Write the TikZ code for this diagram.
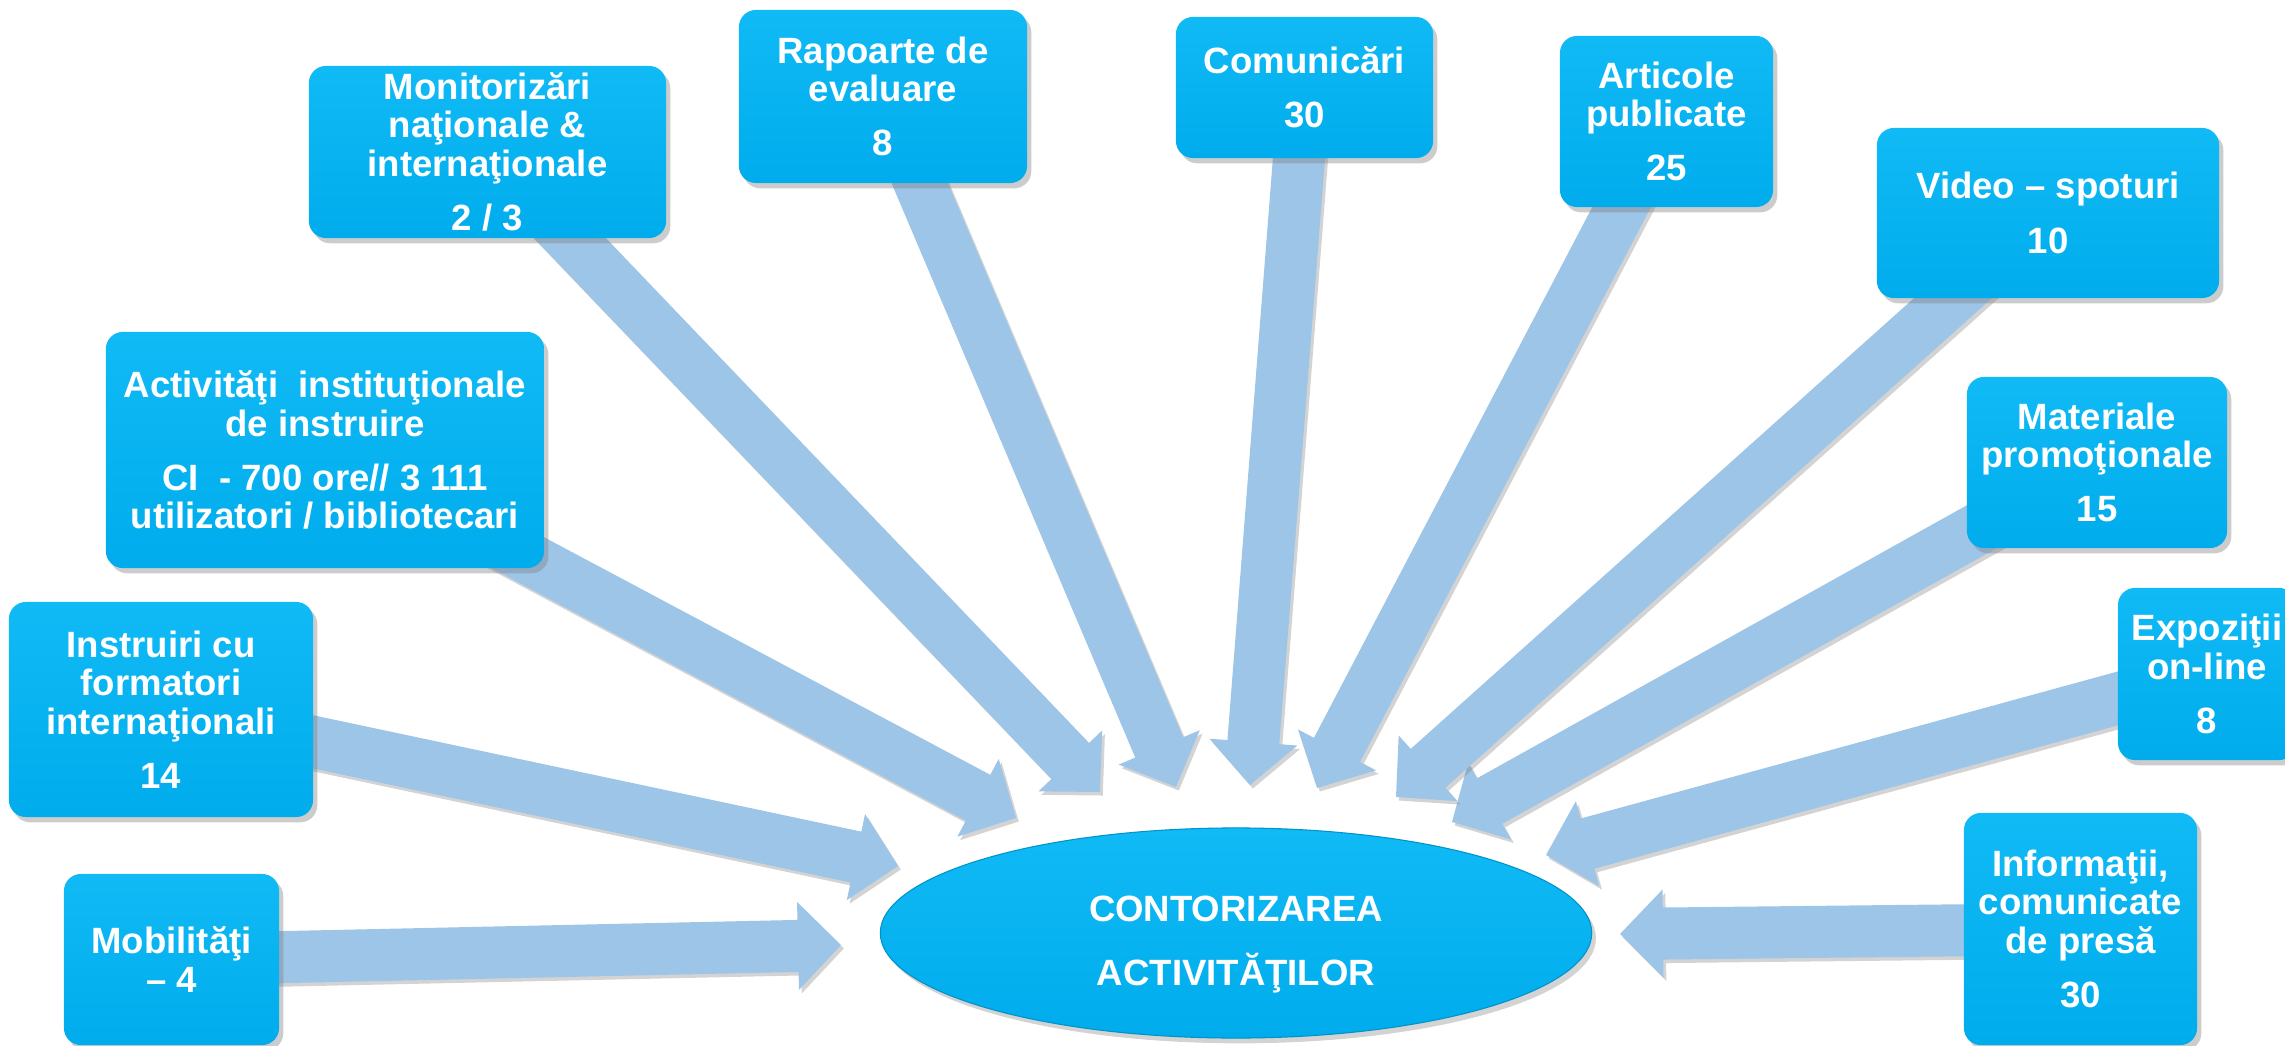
\documentclass[tikz,border=0pt]{standalone}
\usepackage{fontspec}
\setmainfont{Liberation Sans}
\usetikzlibrary{calc,shapes.geometric,shadows,backgrounds}

\definecolor{boxblue}{RGB}{0,172,236}
\definecolor{boxlight}{RGB}{16,186,245}
\definecolor{arrowblue}{RGB}{157,197,232}

\newcommand\boxfont{\bfseries\fontsize{10.4}{10.9}\selectfont}
\newcommand\numgap{\\[4.5pt]}
\newcommand\shafthalf{0.26cm}
\newcommand\headhalf{0.44cm}
\newcommand\headlen{0.43cm}
\newcommand\blockarrow[2]{
  \coordinate (h) at ($(#2)!\headlen!(#1)$) ;
  \fill[arrowshape] ($(#1)!\shafthalf!90:(#2)$) -- ($(h)!\shafthalf!90:(#2)$)
     -- ($(h)!\headhalf!90:(#2)$) -- (#2) -- ($(h)!\headhalf!-90:(#2)$)
     -- ($(h)!\shafthalf!-90:(#2)$) -- ($(#1)!\shafthalf!-90:(#2)$) -- cycle ;
}

\tikzset{
  countbox/.style={rounded corners=0.17cm, top color=boxlight, bottom color=boxblue,
    text=white, font=\boxfont, align=center, inner sep=0pt,
    drop shadow={shadow xshift=1.2pt, shadow yshift=-1.5pt, opacity=.4}},
  arrowshape/.style={fill=arrowblue,
    drop shadow={shadow xshift=.8pt, shadow yshift=-1pt, opacity=.35}},
  centreshape/.style={ellipse, top color=boxlight, bottom color=boxblue,
    draw=boxblue!85!black, line width=.3pt, inner sep=0pt,
    drop shadow={shadow xshift=1.2pt, shadow yshift=-1.5pt, opacity=.35}},
  centretext/.style={text=white, font=\boxfont, align=center}
}

\begin{document}
\begin{tikzpicture}[x=0.01cm, y=-0.01cm]
    \useasboundingbox (0,0) rectangle (2285,1046) ;
    % boxes round the centre
    \node[countbox, minimum width=3.57cm, minimum height=1.72cm] (mon) at (487.5,152)
      {Monitorizări\\naţionale \&\\internaţionale\numgap 2 / 3} ;
    \node[countbox, minimum width=2.88cm, minimum height=1.73cm] (rap) at (883,96.5)
      {Rapoarte de\\evaluare\numgap 8} ;
    \node[countbox, minimum width=2.57cm, minimum height=1.41cm] (com) at (1304.5,87.5)
      {Comunicări\numgap 30} ;
    \node[countbox, minimum width=2.13cm, minimum height=1.71cm] (art) at (1666.5,121.5)
      {Articole\\publicate\numgap 25} ;
    \node[countbox, minimum width=3.42cm, minimum height=1.70cm] (vid) at (2048,213)
      {Video – spoturi\numgap 10} ;
    \node[countbox, minimum width=2.60cm, minimum height=1.71cm] (mat) at (2097,462.5)
      {Materiale\\promoţionale\numgap 15} ;
    \node[countbox, minimum width=1.78cm, minimum height=1.72cm] (exp) at (2207,674)
      {Expoziţii\\on-line\numgap 8} ;
    \node[countbox, minimum width=2.33cm, minimum height=2.32cm] (inf) at (2080.5,929)
      {Informaţii,\\comunicate\\de presă\numgap 30} ;
    \node[countbox, minimum width=2.15cm, minimum height=1.71cm] (mob) at (171.5,959.5)
      {Mobilităţi\\– 4} ;
    \node[countbox, minimum width=3.04cm, minimum height=2.15cm] (ins) at (161,709.5)
      {Instruiri cu\\formatori\\internaţionali\numgap 14} ;
    \node[countbox, minimum width=4.38cm, minimum height=2.36cm] (act) at (325,450)
      {Activităţi~ instituţionale\\de instruire\numgap CI~ - 700 ore// 3 111\\utilizatori / bibliotecari} ;
    % centre
    \node[centreshape, minimum width=7.11cm, minimum height=2.10cm] (centre) at (1236,933) {} ;
    \node[centretext] (centrelabel) at (1236,945) {CONTORIZAREA\\[7.3pt]ACTIVITĂŢILOR} ;
    % arrow tips
    \coordinate (tipmob) at (841,945) ;
    \coordinate (tipins) at (898,866) ;
    \coordinate (tipact) at (1016,818) ;
    \coordinate (tipmon) at (1100,792) ;
    \coordinate (tiprap) at (1176,787) ;
    \coordinate (tipcom) at (1250,785) ;
    \coordinate (tipart) at (1317,788) ;
    \coordinate (tipvid) at (1396,797) ;
    \coordinate (tipmat) at (1452,822) ;
    \coordinate (tipexp) at (1546,855) ;
    \coordinate (tipinf) at (1620,934) ;
    \begin{pgfonlayer}{background}
      \blockarrow{mob}{tipmob}
      \blockarrow{ins}{tipins}
      \blockarrow{act}{tipact}
      \blockarrow{mon}{tipmon}
      \blockarrow{rap}{tiprap}
      \blockarrow{com}{tipcom}
      \blockarrow{art}{tipart}
      \blockarrow{mat}{tipmat}
      \blockarrow{vid}{tipvid}
      \blockarrow{exp}{tipexp}
      \blockarrow{inf}{tipinf}
    \end{pgfonlayer}
\end{tikzpicture}
\end{document}
